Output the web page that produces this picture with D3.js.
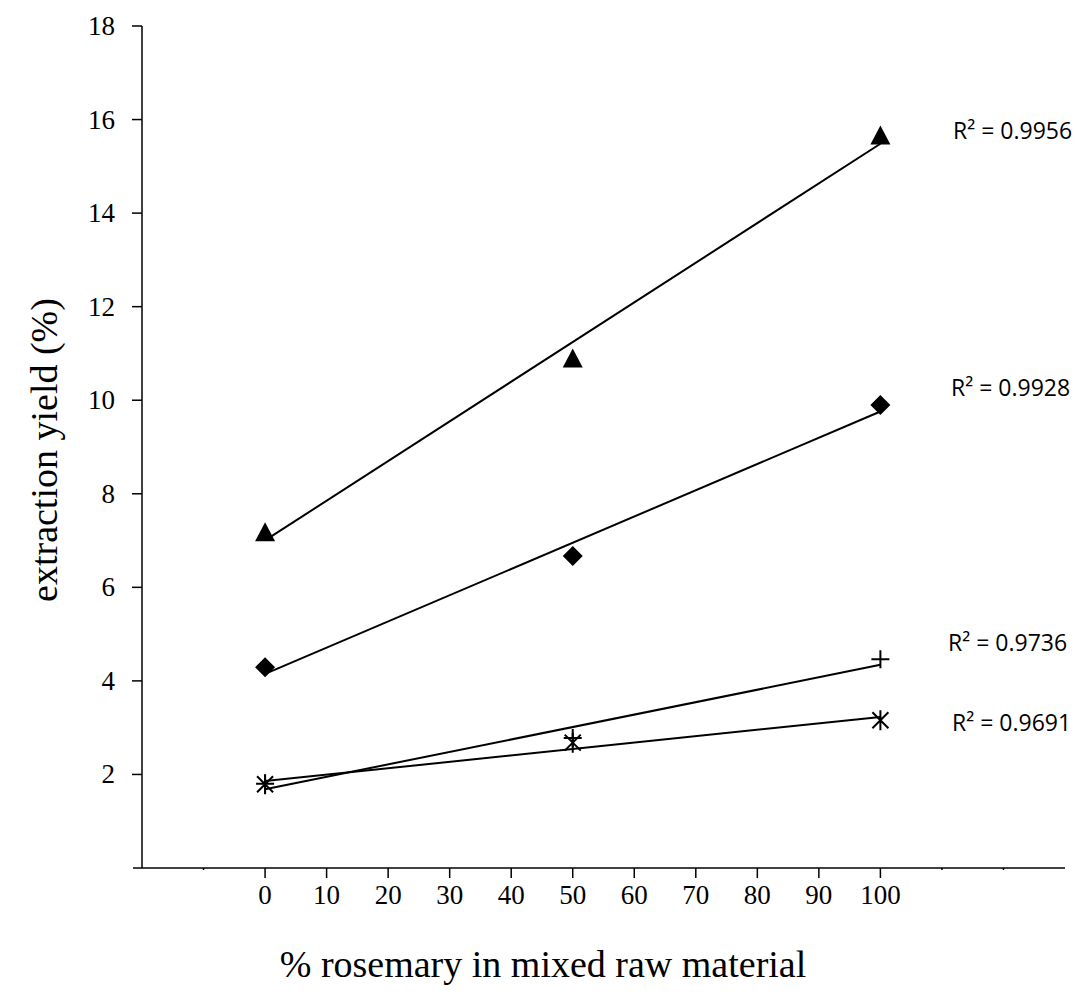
<!DOCTYPE html>
<html>

<head>
	<script src="https://d3js.org/d3.v7.min.js"></script>
	<title> Extraction yield </title>
	<style>
		html,
		body {
			margin: 0;
			background: white;
		}

		svg {
			display: block;
		}

		.tick-label {
			font-family: "Liberation Serif", "Times New Roman", serif;
			font-size: 27px;
			fill: black;
		}

		.r2 {
			font-family: "Open Sans", sans-serif;
			font-size: 23px;
			fill: black;
		}
	</style>
</head>

<body>
	<svg width="1079" height="1005"></svg>

	<script>
		// data
		const xValues = [0, 50, 100];
		const triangleY = [7.18, 10.89, 15.66];
		const diamondY = [4.29, 6.67, 9.90];
		const plusY = [1.80, 2.78, 4.46];
		const starY = [1.79, 2.68, 3.16];
		const r2Labels = ["R² = 0.9956", "R² = 0.9928", "R² = 0.9736", "R² = 0.9691"];
		const r2Y = [15.75, 10.27, 4.82, 3.1];		// where each label sits
		const r2X = [953, 951, 948, 952];
		const xTicks = [0, 10, 20, 30, 40, 50, 60, 70, 80, 90, 100];
		const xMinorTicks = [-10, 110, 120];
		const yTicks = [2, 4, 6, 8, 10, 12, 14, 16, 18];

		const svg = d3.select("svg");

		const x = d3.scaleLinear().domain([-20, 130]).range([142, 1065]);
		const y = d3.scaleLinear().domain([0, 18]).range([868, 26]);

		// y axis
		svg.append("line")
			.attr("x1", x(-20)).attr("x2", x(-20))
			.attr("y1", y(18)).attr("y2", y(0))
			.attr("stroke", "black").attr("stroke-width", 1.5);

		svg.selectAll(".ytick")
			.data(yTicks)
			.enter()
			.append("line")
			.attr("x1", x(-20) - 10).attr("x2", x(-20))
			.attr("y1", d => y(d)).attr("y2", d => y(d))
			.attr("stroke", "black").attr("stroke-width", 1.5);

		svg.selectAll(".ylabel")
			.data(yTicks)
			.enter()
			.append("text")
			.attr("class", "tick-label")
			.attr("x", 115)
			.attr("y", d => y(d) + 9)
			.attr("text-anchor", "end")
			.text(d => d);

		// x axis
		svg.append("line")
			.attr("x1", 133).attr("x2", x(130))
			.attr("y1", y(0)).attr("y2", y(0))
			.attr("stroke", "black").attr("stroke-width", 1.5);

		svg.selectAll(".xtick")
			.data(xTicks)
			.enter()
			.append("line")
			.attr("x1", d => x(d)).attr("x2", d => x(d))
			.attr("y1", y(0)).attr("y2", y(0) + 10)
			.attr("stroke", "black").attr("stroke-width", 1.5);

		svg.selectAll(".xminor")
			.data(xMinorTicks)
			.enter()
			.append("line")
			.attr("x1", d => x(d)).attr("x2", d => x(d))
			.attr("y1", y(0)).attr("y2", y(0) + 2)
			.attr("stroke", "black").attr("stroke-width", 1.5);

		svg.selectAll(".xlabel")
			.data(xTicks)
			.enter()
			.append("text")
			.attr("class", "tick-label")
			.attr("x", d => x(d))
			.attr("y", 904)
			.attr("text-anchor", "middle")
			.text(d => d);

		// axis titles
		svg.append("text")
			.attr("transform", "translate(57,450) rotate(-90)")
			.attr("text-anchor", "middle")
			.style("font-family", "'Liberation Serif', serif")
			.style("font-size", "38px")
			.text("extraction yield (%)");

		svg.append("text")
			.attr("x", 543)
			.attr("y", 977)
			.attr("text-anchor", "middle")
			.style("font-family", "'Liberation Serif', serif")
			.style("font-size", "38px")
			.text("% rosemary in mixed raw material");

		// linear trendlines
		function fit(ys) {
			const mx = d3.mean(xValues), my = d3.mean(ys);
			let sxy = 0, sxx = 0;
			xValues.forEach((xv, i) => {
				sxy += (xv - mx) * (ys[i] - my);
				sxx += (xv - mx) * (xv - mx);
			});
			const b = sxy / sxx;
			return { a: my - b * mx, b: b };
		}

		const allSeries = [
			{ ys: triangleY, shape: "triangle" },
			{ ys: diamondY, shape: "diamond" },
			{ ys: plusY, shape: "plus" },
			{ ys: starY, shape: "star" }
		];

		allSeries.forEach(s => {
			const f = fit(s.ys);
			svg.append("line")
				.attr("x1", x(0)).attr("y1", y(f.a))
				.attr("x2", x(100)).attr("y2", y(f.a + f.b * 100))
				.attr("stroke", "black").attr("stroke-width", 2);
		});

		// marker outlines
		const shapes = {
			triangle: { d: "M0,-10L10,9H-10Z", fill: true },
			diamond: { d: "M0,-10L10,0L0,10L-10,0Z", fill: true },
			plus: { d: "M-9,0H9M0,-9V9", fill: false },
			star: { d: "M-8,-8L8,8M-8,8L8,-8M0,-10V10", fill: false }
		};

		allSeries.forEach(s => {
			const sh = shapes[s.shape];
			svg.append("g")
				.selectAll("path")
				.data(s.ys)
				.enter()
				.append("path")
				.attr("d", sh.d)
				.attr("transform", (d, i) => "translate(" + x(xValues[i]) + "," + y(d) + ")")
				.attr("fill", sh.fill ? "black" : "none")
				.attr("stroke", sh.fill ? "none" : "black")
				.attr("stroke-width", 2);
		});

		// R² labels
		svg.selectAll(".r2")
			.data(r2Labels)
			.enter()
			.append("text")
			.attr("class", "r2")
			.attr("x", (d, i) => r2X[i])
			.attr("y", (d, i) => y(r2Y[i]) + 8)
			.text(d => d);
	</script>

</body>

</html>
